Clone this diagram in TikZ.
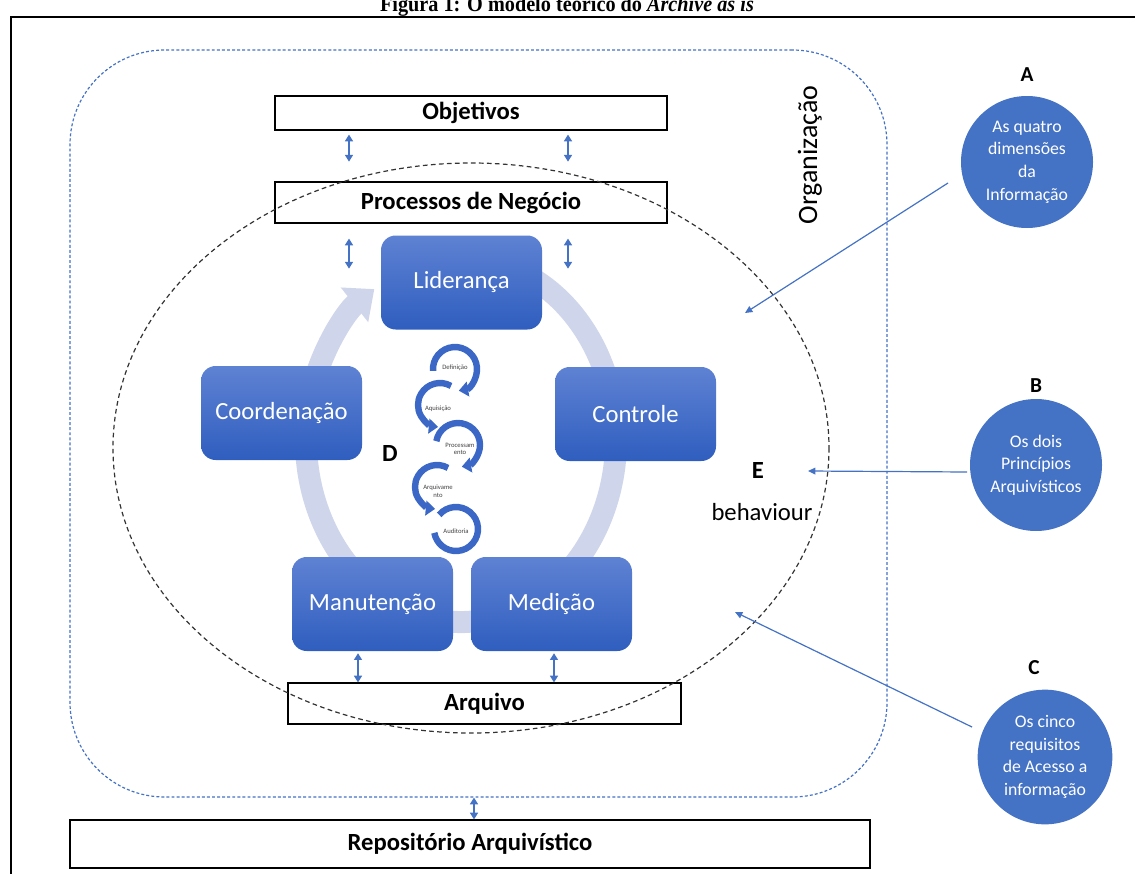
\documentclass[tikz,border=0pt]{standalone}
\usepackage{fontspec}
\setmainfont{Carlito}
\newfontfamily\titlefont{Liberation Serif}
\usetikzlibrary{arrows.meta}
\definecolor{accent}{HTML}{4472C4}
\definecolor{boxtop}{HTML}{5E82D3}
\definecolor{boxbot}{HTML}{2F5EBF}
\definecolor{ringgray}{HTML}{CFD5EA}
\definecolor{spinblue}{HTML}{3B68C6}
\tikzset{plate/.style={draw=black,line width=.9pt,fill=white,inner sep=0pt,font=\fontsize{18.5}{22}\selectfont\bfseries},
stage/.style={rounded corners=11pt,top color=boxtop,bottom color=boxbot,draw=none,text=white,minimum width=120.75pt,minimum height=70.5pt,inner sep=0pt,font=\fontsize{18.5}{22}\selectfont},
dim/.style={circle,fill=accent,text=white,minimum size=99pt,inner sep=0pt,align=center,font=\fontsize{13.3}{17}\selectfont},
tag/.style={inner sep=1pt,font=\fontsize{16}{18}\selectfont\bfseries},
dbl/.style={accent,line width=.9pt,{Triangle[length=5pt,width=6pt]}-{Triangle[length=5pt,width=6pt]}},
link/.style={accent,line width=.9pt,-{Triangle[length=5.5pt,width=5pt]}},
spin/.style={spinblue,line width=4.8pt,-{Triangle[length=7pt,width=11pt]}},
tiny/.style={inner sep=0pt,align=center,text=black!75,font=\fontsize{5}{5.8}\selectfont}}

\begin{document}
\begin{tikzpicture}[x=.75pt,y=-.75pt]
\path[use as bounding box] (0,0) rectangle (1135,874);
\begin{scope}
\clip (0,0) rectangle (1135,874);
\node[anchor=base,inner sep=0pt,xscale=.92,font=\titlefont\fontsize{16.5}{19}\selectfont\bfseries] (title) at (567,12) {Figura 1: O modelo teórico do \textit{Archive as is}};
\draw[line width=1.5pt] (11,900) -- (11,17) -- (1150,17);
\end{scope}
% organisation frame and cycle
\node[draw=accent,line width=.9pt,dash pattern=on 2.2pt off 1.6pt,rounded corners=71pt,minimum width=612.75pt,minimum height=560.25pt,inner sep=0pt] (org) at (478.5,423.5) {};
\draw[ringgray,line width=16.5pt,-{Triangle[length=19pt,width=32pt]}] (461,440) ++(290:155 and 182) arc[start angle=290,end angle=596,x radius=155,y radius=182];
\node[stage] (lid) at (461.5,282.5) {Liderança};
\node[stage] (coord) at (281.5,413) {Coordenação};
\node[stage] (ctrl) at (635.5,414) {Controle};
\node[stage] (man) at (372.5,604) {Manutenção};
\node[stage] (med) at (551.5,604) {Medição};
% plates
\node[plate,minimum width=294pt,minimum height=25.5pt] (obj) at (471,113) {Objetivos};
\node[plate,minimum width=294pt,minimum height=30.75pt] (proc) at (471,202.5) {Processos de Negócio};
\node[plate,minimum width=294.75pt,minimum height=30.75pt] (arq) at (484.5,703.5) {Arquivo};
\node[plate,minimum width=600pt,minimum height=36pt] (rep) at (470,844) {Repositório Arquivístico};
\draw[black!80,line width=.9pt,dash pattern=on 3.5pt off 2.5pt] (471,448) ellipse[x radius=358,y radius=285];
% life cycle spiral
\draw[spin] (455,369) ++(175:22) arc[start angle=175,end angle=440,radius=22];
\draw[spin] (440,405) ++(300:22) arc[start angle=300,end angle=95,radius=22];
\draw[spin] (458,445) ++(190:22) arc[start angle=190,end angle=440,radius=22];
\draw[spin] (437,487) ++(300:22) arc[start angle=300,end angle=95,radius=22];
\draw[spinblue,line width=4.8pt] (456,529) ++(220:22) arc[start angle=220,end angle=530,radius=22];
\node[tiny] (t1) at (455,368) {Definição};
\node[tiny] (t2) at (438,409) {Aquisição};
\node[tiny] (t3) at (460,449) {Processam\\ento};
\node[tiny] (t4) at (438,491) {Arquivame\\nto};
\node[tiny] (t5) at (456,531) {Auditoria};
\node[tag,font=\fontsize{18.5}{22}\selectfont\bfseries] (dd) at (390,453) {D};
\node[tag,font=\fontsize{18.5}{22}\selectfont\bfseries] (ee) at (758,470) {E};
\node[inner sep=1pt,font=\fontsize{18.5}{22}\selectfont] (beh) at (762,512) {behaviour};
\node[rotate=90,inner sep=1pt,font=\fontsize{21}{24}\selectfont] (orgname) at (810,155) {Organização};
% dimensions
\node[dim] (dimA) at (1027,162) {As quatro\\dimensões\\da\\Informação};
\node[dim] (dimB) at (1036,465) {Os dois\\Princípios\\Arquivísticos};
\node[dim,minimum size=101pt] (dimC) at (1045,757) {Os cinco\\requisitos\\de Acesso a\\informação};
\node[tag] (la) at (1027,75) {A};
\node[tag] (lb) at (1036,386) {B};
\node[tag] (lc) at (1034,668) {C};
\coordinate (sA) at (948,183);
\coordinate (eA) at (745,313);
\coordinate (sB) at (967,472);
\coordinate (eB) at (808,471);
\coordinate (sC) at (972,727);
\coordinate (eC) at (735,612);
\draw[link] (sA) -- (eA);
\draw[link] (sB) -- (eB);
\draw[link] (sC) -- (eC);
% double arrows
\coordinate (q1) at (349,0);
\coordinate (q2) at (568,0);
\coordinate (q3) at (358,0);
\coordinate (q4) at (554,0);
\coordinate (q5) at (474,0);
\draw[dbl] (obj.south -| q1) ++(0,4) -- ++(0,27);
\draw[dbl] (obj.south -| q2) ++(0,4) -- ++(0,27);
\draw[dbl] (proc.south -| q1) ++(0,15) -- ++(0,30);
\draw[dbl] (proc.south -| q2) ++(0,15) -- ++(0,30);
\draw[dbl] (man.south -| q3) ++(0,2) -- (arq.north -| q3);
\draw[dbl] (med.south -| q4) ++(0,2) -- (arq.north -| q4);
\draw[dbl] (org.south -| q5) -- (rep.north -| q5);
\end{tikzpicture}
\end{document}
